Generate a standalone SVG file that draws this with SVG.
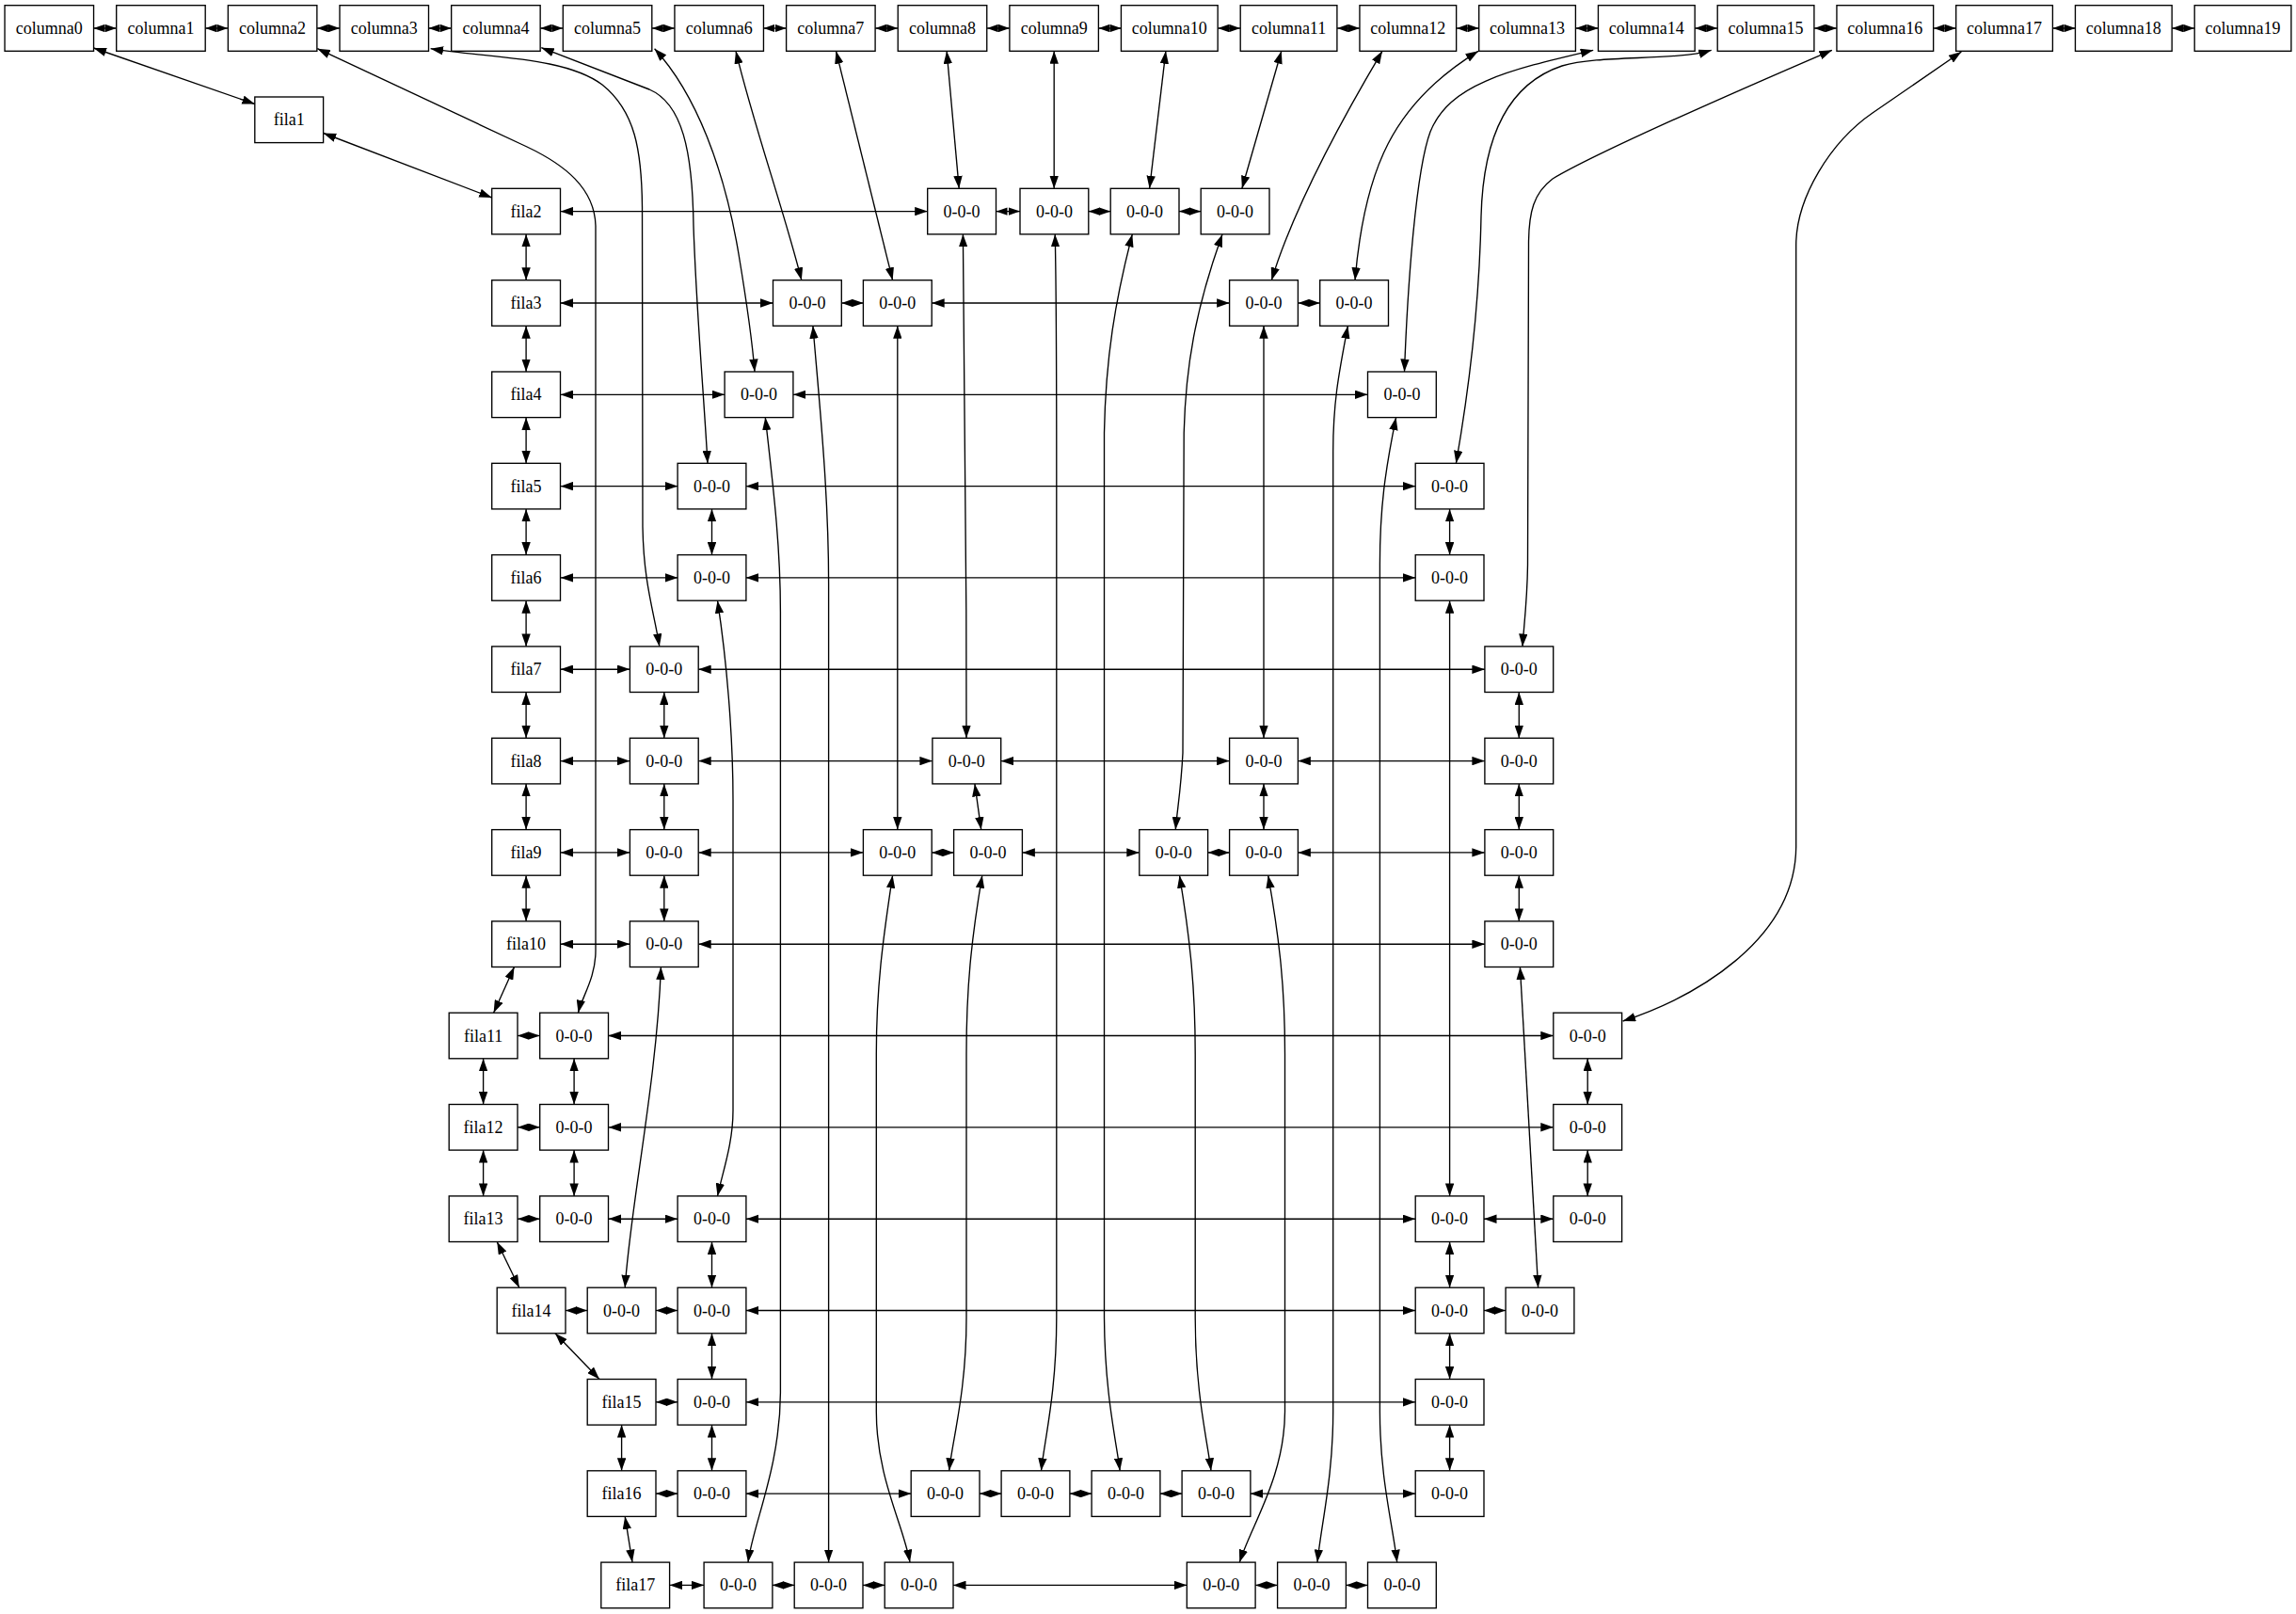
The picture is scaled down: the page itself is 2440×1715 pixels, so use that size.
<svg xmlns="http://www.w3.org/2000/svg" width="2440" height="1715" viewBox="0 0 2440 1715">
<style>
.n rect{fill:#fff;stroke:#000;stroke-width:1.35}
.n text{font-family:"Liberation Serif","Times New Roman",serif;font-size:18px;text-anchor:middle;fill:#000}
.e path{fill:none;stroke:#000;stroke-width:1.35;marker-start:url(#a);marker-end:url(#a)}
.e path.s{marker-start:url(#s);marker-end:url(#s)}
</style>
<defs>
<marker id="a" markerUnits="userSpaceOnUse" viewBox="0 0 13.5 9.4" markerWidth="13.5" markerHeight="9.4" refX="13.5" refY="4.7" orient="auto-start-reverse"><path d="M0,0L13.5,4.7L0,9.4z" fill="#000"/></marker>
<marker id="s" markerUnits="userSpaceOnUse" viewBox="0 0 12 8.4" markerWidth="12" markerHeight="8.4" refX="12" refY="4.2" orient="auto-start-reverse"><path d="M0,0L12,4.2L0,8.4z" fill="#000"/></marker>
</defs>
<rect width="2440" height="1715" fill="#fff"/>
<g id="edges" class="e">
<path class="s" d="M99.55,30H123.7"/>
<path class="s" d="M218.2,30H242.35"/>
<path class="s" d="M336.85,30H361"/>
<path class="s" d="M455.5,30H479.65"/>
<path class="s" d="M574.15,30H598.3"/>
<path class="s" d="M692.8,30H716.95"/>
<path class="s" d="M811.45,30H835.6"/>
<path class="s" d="M930.1,30H954.25"/>
<path class="s" d="M1048.75,30H1072.9"/>
<path class="s" d="M1167.4,30H1191.45"/>
<path class="s" d="M1294.15,30H1318.2"/>
<path class="s" d="M1420.9,30H1444.95"/>
<path class="s" d="M1547.65,30H1571.7"/>
<path class="s" d="M1674.4,30H1698.45"/>
<path class="s" d="M1801.15,30H1825.2"/>
<path class="s" d="M1927.9,30H1951.95"/>
<path class="s" d="M2054.65,30H2078.7"/>
<path class="s" d="M2181.4,30H2205.45"/>
<path class="s" d="M2308.15,30H2332.2"/>
<path d="M99.5,51L270.8,110.5"/>
<path d="M343.7,141.5L522.7,210"/>
<path d="M559.1,248.9V297.7"/>
<path d="M559.1,346.3V395"/>
<path d="M559.1,443.6V492.3"/>
<path d="M559.1,540.9V589.6"/>
<path d="M559.1,638.2V686.9"/>
<path d="M559.1,735.5V784.3"/>
<path d="M559.1,832.9V881.6"/>
<path d="M559.1,930.2V978.9"/>
<path d="M546.5,1027.5L524.6,1076.2"/>
<path d="M513.6,1124.8V1173.5"/>
<path d="M513.6,1222.1V1270.9"/>
<path d="M528.2,1319.5L551.8,1368.2"/>
<path d="M590,1416.8L637,1465.5"/>
<path d="M660.6,1514.1V1562.8"/>
<path d="M664.2,1611.4L672,1660.1"/>
<path d="M595.5,224.6H985.7"/>
<path class="s" d="M1058.5,224.6H1084"/>
<path class="s" d="M1156.8,224.6H1180.2"/>
<path class="s" d="M1253,224.6H1276.2"/>
<path d="M595.5,322H821.5"/>
<path class="s" d="M894.3,322H917.4"/>
<path d="M990.2,322H1306.6"/>
<path class="s" d="M1379.4,322H1402.7"/>
<path d="M595.5,419.3H770.1"/>
<path d="M842.9,419.3H1453.5"/>
<path d="M595.5,516.6H720.1"/>
<path d="M792.9,516.6H1504.2"/>
<path d="M595.5,613.9H720.1"/>
<path d="M792.9,613.9H1504.2"/>
<path d="M595.5,711.2H669.4"/>
<path d="M742.2,711.2H1577.9"/>
<path d="M595.5,808.6H669.4"/>
<path d="M742.2,808.6H990.9"/>
<path d="M1063.7,808.6H1306.6"/>
<path d="M1379.4,808.6H1577.9"/>
<path d="M595.5,905.9H669.4"/>
<path d="M742.2,905.9H917.4"/>
<path class="s" d="M990.2,905.9H1013.6"/>
<path d="M1086.4,905.9H1210.8"/>
<path class="s" d="M1283.6,905.9H1306.6"/>
<path d="M1379.4,905.9H1577.9"/>
<path d="M595.5,1003.2H669.4"/>
<path d="M742.2,1003.2H1577.9"/>
<path class="s" d="M550,1100.5H573.7"/>
<path d="M646.5,1100.5H1650.8"/>
<path class="s" d="M550,1197.8H573.7"/>
<path d="M646.5,1197.8H1650.8"/>
<path class="s" d="M550,1295.2H573.7"/>
<path d="M646.5,1295.2H720.1"/>
<path d="M792.9,1295.2H1504.2"/>
<path d="M1577,1295.2H1650.8"/>
<path class="s" d="M601,1392.5H624.2"/>
<path class="s" d="M697,1392.5H720.1"/>
<path d="M792.9,1392.5H1504.2"/>
<path class="s" d="M1577,1392.5H1600.1"/>
<path class="s" d="M697,1489.8H720.1"/>
<path d="M792.9,1489.8H1504.2"/>
<path class="s" d="M697,1587.1H720.1"/>
<path d="M792.9,1587.1H968.2"/>
<path class="s" d="M1041,1587.1H1064.1"/>
<path class="s" d="M1136.9,1587.1H1160.1"/>
<path class="s" d="M1232.9,1587.1H1256.1"/>
<path d="M1328.9,1587.1H1504.2"/>
<path d="M711.6,1684.4H748.1"/>
<path class="s" d="M820.9,1684.4H844.2"/>
<path class="s" d="M917,1684.4H940.2"/>
<path d="M1013,1684.4H1261.3"/>
<path class="s" d="M1334.1,1684.4H1357.6"/>
<path class="s" d="M1430.4,1684.4H1453.5"/>
<path d="M337.3,51.7L560,156C600,175 632,200 633,240L633,1010C633,1040 618,1060 614.5,1076.2"/>
<path d="M610.1,1124.8V1173.5"/>
<path d="M610.1,1222.1V1270.9"/>
<path d="M457.6,51.7C520,62 600,60 640,90C675,118 682,160 682.5,220L683,560C684,620 695,650 700.8,686.9"/>
<path d="M705.8,735.5V784.3"/>
<path d="M705.8,832.9V881.6"/>
<path d="M705.8,930.2V978.9"/>
<path d="M702.4,1027.5C698,1150 670,1280 664.2,1368.2"/>
<path d="M575.3,50.7L690,95C725,110 736,160 737,240C740,330 748,420 752,492.3"/>
<path d="M756.5,540.9V589.6"/>
<path d="M762.5,638.2C772,700 779,780 779,850L779,1180C779,1215 768,1245 762.5,1270.9"/>
<path d="M756.5,1319.5V1368.2"/>
<path d="M756.5,1416.8V1465.5"/>
<path d="M756.5,1514.1V1562.8"/>
<path d="M695.6,51.7C740,100 770,180 785,270C795,330 800,370 802,395"/>
<path d="M813.3,443.6C822,520 829.4,580 829.4,650L829.4,1480C829,1560 800,1620 795,1660.1"/>
<path d="M782,54.3C800,130 835,230 851.8,297.7"/>
<path d="M863.9,346.3C870,420 880.6,520 880.6,620L880.6,1660.1"/>
<path d="M888.5,54.3L948.6,297.7"/>
<path d="M953.8,346.3V881.6"/>
<path d="M948.6,930.2C938,1000 931.3,1050 931.3,1120L931.3,1500C931.3,1570 960,1620 967,1660.1"/>
<path d="M1006.1,54.3L1019.2,200.3"/>
<path d="M1023.4,248.9C1026,400 1027,600 1027,784.3"/>
<path d="M1035.9,832.9L1042.7,881.6"/>
<path d="M1043.8,930.2C1032,1000 1027,1050 1027,1120L1027,1400C1027,1480 1012,1530 1008.7,1562.8"/>
<path d="M1120.2,54.3V200.3"/>
<path d="M1121.2,248.9C1122.5,300 1122.8,400 1122.8,500L1122.8,1400C1122.8,1480 1110,1530 1106.5,1562.8"/>
<path d="M1238.9,54.3L1221.6,200.3"/>
<path d="M1203.3,248.9C1185,320 1175,380 1173.5,460L1173.5,1400C1174,1480 1186,1530 1190.2,1562.8"/>
<path d="M1361.8,54.3L1319.9,200.3"/>
<path d="M1299,248.9C1270,330 1260,390 1258.2,460L1257,800C1255,840 1251,860 1249.3,881.6"/>
<path d="M1253.5,930.2C1265,1000 1270.2,1050 1270.2,1120L1270.2,1400C1270.2,1480 1283,1530 1287,1562.8"/>
<path d="M1469,54.3C1430,120 1375,220 1351.3,297.7"/>
<path d="M1343,346.3V784.3"/>
<path d="M1343,832.9V881.6"/>
<path d="M1347.7,930.2C1360,1000 1365.5,1050 1365.5,1120L1365.5,1500C1365,1570 1330,1620 1317.3,1660.1"/>
<path d="M1571,54.3C1480,110 1450,180 1440,297.7"/>
<path d="M1432.4,346.3C1422,400 1416.7,430 1416.7,480L1416.7,1500C1416.7,1570 1404,1620 1400,1660.1"/>
<path d="M1693.2,53.3C1600,75 1540,90 1520,140C1505,180 1496,300 1492.5,395"/>
<path d="M1483.6,443.6C1472,500 1466.4,540 1466.4,600L1466.4,1500C1466.4,1570 1480,1620 1484.7,1660.1"/>
<path d="M1818.7,53.3C1780,65 1700,58 1660,70C1600,90 1576,150 1574,230C1572,330 1560,420 1547.4,492.3"/>
<path d="M1540.6,540.9V589.6"/>
<path d="M1540.6,638.2V1270.9"/>
<path d="M1540.6,1319.5V1368.2"/>
<path d="M1540.6,1416.8V1465.5"/>
<path d="M1540.6,1514.1V1562.8"/>
<path d="M1946.9,53.3C1850,95 1700,160 1650,190C1630,205 1624.5,225 1624.5,260L1623.5,600C1623,640 1619,670 1618,686.9"/>
<path d="M1614.3,735.5V784.3"/>
<path d="M1614.3,832.9V881.6"/>
<path d="M1614.3,930.2V978.9"/>
<path d="M1615.4,1027.5L1634.6,1368.2"/>
<path d="M2084.4,55L1990,120C1945,151 1909,210 1908.7,260L1908.7,900C1908,1000 1800,1060 1724.6,1085"/>
<path d="M1687.2,1124.8V1173.5"/>
<path d="M1687.2,1222.1V1270.9"/>
</g>
<g id="columna0" class="n"><rect x="5.05" y="5.7" width="94.5" height="48.6"/><text x="52.3" y="36">columna0</text></g>
<g id="columna1" class="n"><rect x="123.7" y="5.7" width="94.5" height="48.6"/><text x="170.95" y="36">columna1</text></g>
<g id="columna2" class="n"><rect x="242.35" y="5.7" width="94.5" height="48.6"/><text x="289.6" y="36">columna2</text></g>
<g id="columna3" class="n"><rect x="361" y="5.7" width="94.5" height="48.6"/><text x="408.25" y="36">columna3</text></g>
<g id="columna4" class="n"><rect x="479.65" y="5.7" width="94.5" height="48.6"/><text x="526.9" y="36">columna4</text></g>
<g id="columna5" class="n"><rect x="598.3" y="5.7" width="94.5" height="48.6"/><text x="645.55" y="36">columna5</text></g>
<g id="columna6" class="n"><rect x="716.95" y="5.7" width="94.5" height="48.6"/><text x="764.2" y="36">columna6</text></g>
<g id="columna7" class="n"><rect x="835.6" y="5.7" width="94.5" height="48.6"/><text x="882.85" y="36">columna7</text></g>
<g id="columna8" class="n"><rect x="954.25" y="5.7" width="94.5" height="48.6"/><text x="1001.5" y="36">columna8</text></g>
<g id="columna9" class="n"><rect x="1072.9" y="5.7" width="94.5" height="48.6"/><text x="1120.15" y="36">columna9</text></g>
<g id="columna10" class="n"><rect x="1191.45" y="5.7" width="102.7" height="48.6"/><text x="1242.8" y="36">columna10</text></g>
<g id="columna11" class="n"><rect x="1318.2" y="5.7" width="102.7" height="48.6"/><text x="1369.55" y="36">columna11</text></g>
<g id="columna12" class="n"><rect x="1444.95" y="5.7" width="102.7" height="48.6"/><text x="1496.3" y="36">columna12</text></g>
<g id="columna13" class="n"><rect x="1571.7" y="5.7" width="102.7" height="48.6"/><text x="1623.05" y="36">columna13</text></g>
<g id="columna14" class="n"><rect x="1698.45" y="5.7" width="102.7" height="48.6"/><text x="1749.8" y="36">columna14</text></g>
<g id="columna15" class="n"><rect x="1825.2" y="5.7" width="102.7" height="48.6"/><text x="1876.55" y="36">columna15</text></g>
<g id="columna16" class="n"><rect x="1951.95" y="5.7" width="102.7" height="48.6"/><text x="2003.3" y="36">columna16</text></g>
<g id="columna17" class="n"><rect x="2078.7" y="5.7" width="102.7" height="48.6"/><text x="2130.05" y="36">columna17</text></g>
<g id="columna18" class="n"><rect x="2205.45" y="5.7" width="102.7" height="48.6"/><text x="2256.8" y="36">columna18</text></g>
<g id="columna19" class="n"><rect x="2332.2" y="5.7" width="102.7" height="48.6"/><text x="2383.55" y="36">columna19</text></g>
<g id="fila1" class="n"><rect x="270.8" y="103" width="72.8" height="48.6"/><text x="307.2" y="133.3">fila1</text></g>
<g id="fila2" class="n"><rect x="522.7" y="200.3" width="72.8" height="48.6"/><text x="559.1" y="230.6">fila2</text></g>
<g id="fila3" class="n"><rect x="522.7" y="297.7" width="72.8" height="48.6"/><text x="559.1" y="328">fila3</text></g>
<g id="fila4" class="n"><rect x="522.7" y="395" width="72.8" height="48.6"/><text x="559.1" y="425.3">fila4</text></g>
<g id="fila5" class="n"><rect x="522.7" y="492.3" width="72.8" height="48.6"/><text x="559.1" y="522.6">fila5</text></g>
<g id="fila6" class="n"><rect x="522.7" y="589.6" width="72.8" height="48.6"/><text x="559.1" y="619.9">fila6</text></g>
<g id="fila7" class="n"><rect x="522.7" y="686.9" width="72.8" height="48.6"/><text x="559.1" y="717.2">fila7</text></g>
<g id="fila8" class="n"><rect x="522.7" y="784.3" width="72.8" height="48.6"/><text x="559.1" y="814.6">fila8</text></g>
<g id="fila9" class="n"><rect x="522.7" y="881.6" width="72.8" height="48.6"/><text x="559.1" y="911.9">fila9</text></g>
<g id="fila10" class="n"><rect x="522.7" y="978.9" width="72.8" height="48.6"/><text x="559.1" y="1009.2">fila10</text></g>
<g id="fila11" class="n"><rect x="477.2" y="1076.2" width="72.8" height="48.6"/><text x="513.6" y="1106.5">fila11</text></g>
<g id="fila12" class="n"><rect x="477.2" y="1173.5" width="72.8" height="48.6"/><text x="513.6" y="1203.8">fila12</text></g>
<g id="fila13" class="n"><rect x="477.2" y="1270.9" width="72.8" height="48.6"/><text x="513.6" y="1301.2">fila13</text></g>
<g id="fila14" class="n"><rect x="528.2" y="1368.2" width="72.8" height="48.6"/><text x="564.6" y="1398.5">fila14</text></g>
<g id="fila15" class="n"><rect x="624.2" y="1465.5" width="72.8" height="48.6"/><text x="660.6" y="1495.8">fila15</text></g>
<g id="fila16" class="n"><rect x="624.2" y="1562.8" width="72.8" height="48.6"/><text x="660.6" y="1593.1">fila16</text></g>
<g id="fila17" class="n"><rect x="638.8" y="1660.1" width="72.8" height="48.6"/><text x="675.2" y="1690.4">fila17</text></g>
<g id="n2_8" class="n"><rect x="985.7" y="200.3" width="72.8" height="48.6"/><text x="1022.1" y="230.6">0-0-0</text></g>
<g id="n2_9" class="n"><rect x="1084" y="200.3" width="72.8" height="48.6"/><text x="1120.4" y="230.6">0-0-0</text></g>
<g id="n2_10" class="n"><rect x="1180.2" y="200.3" width="72.8" height="48.6"/><text x="1216.6" y="230.6">0-0-0</text></g>
<g id="n2_11" class="n"><rect x="1276.2" y="200.3" width="72.8" height="48.6"/><text x="1312.6" y="230.6">0-0-0</text></g>
<g id="n3_6" class="n"><rect x="821.5" y="297.7" width="72.8" height="48.6"/><text x="857.9" y="328">0-0-0</text></g>
<g id="n3_7" class="n"><rect x="917.4" y="297.7" width="72.8" height="48.6"/><text x="953.8" y="328">0-0-0</text></g>
<g id="n3_12" class="n"><rect x="1306.6" y="297.7" width="72.8" height="48.6"/><text x="1343" y="328">0-0-0</text></g>
<g id="n3_13" class="n"><rect x="1402.7" y="297.7" width="72.8" height="48.6"/><text x="1439.1" y="328">0-0-0</text></g>
<g id="n4_5" class="n"><rect x="770.1" y="395" width="72.8" height="48.6"/><text x="806.5" y="425.3">0-0-0</text></g>
<g id="n4_14" class="n"><rect x="1453.5" y="395" width="72.8" height="48.6"/><text x="1489.9" y="425.3">0-0-0</text></g>
<g id="n5_4" class="n"><rect x="720.1" y="492.3" width="72.8" height="48.6"/><text x="756.5" y="522.6">0-0-0</text></g>
<g id="n5_15" class="n"><rect x="1504.2" y="492.3" width="72.8" height="48.6"/><text x="1540.6" y="522.6">0-0-0</text></g>
<g id="n6_4" class="n"><rect x="720.1" y="589.6" width="72.8" height="48.6"/><text x="756.5" y="619.9">0-0-0</text></g>
<g id="n6_15" class="n"><rect x="1504.2" y="589.6" width="72.8" height="48.6"/><text x="1540.6" y="619.9">0-0-0</text></g>
<g id="n7_3" class="n"><rect x="669.4" y="686.9" width="72.8" height="48.6"/><text x="705.8" y="717.2">0-0-0</text></g>
<g id="n7_16" class="n"><rect x="1577.9" y="686.9" width="72.8" height="48.6"/><text x="1614.3" y="717.2">0-0-0</text></g>
<g id="n8_3" class="n"><rect x="669.4" y="784.3" width="72.8" height="48.6"/><text x="705.8" y="814.6">0-0-0</text></g>
<g id="n8_8" class="n"><rect x="990.9" y="784.3" width="72.8" height="48.6"/><text x="1027.3" y="814.6">0-0-0</text></g>
<g id="n8_12" class="n"><rect x="1306.6" y="784.3" width="72.8" height="48.6"/><text x="1343" y="814.6">0-0-0</text></g>
<g id="n8_16" class="n"><rect x="1577.9" y="784.3" width="72.8" height="48.6"/><text x="1614.3" y="814.6">0-0-0</text></g>
<g id="n9_3" class="n"><rect x="669.4" y="881.6" width="72.8" height="48.6"/><text x="705.8" y="911.9">0-0-0</text></g>
<g id="n9_7" class="n"><rect x="917.4" y="881.6" width="72.8" height="48.6"/><text x="953.8" y="911.9">0-0-0</text></g>
<g id="n9_8" class="n"><rect x="1013.6" y="881.6" width="72.8" height="48.6"/><text x="1050" y="911.9">0-0-0</text></g>
<g id="n9_11" class="n"><rect x="1210.8" y="881.6" width="72.8" height="48.6"/><text x="1247.2" y="911.9">0-0-0</text></g>
<g id="n9_12" class="n"><rect x="1306.6" y="881.6" width="72.8" height="48.6"/><text x="1343" y="911.9">0-0-0</text></g>
<g id="n9_16" class="n"><rect x="1577.9" y="881.6" width="72.8" height="48.6"/><text x="1614.3" y="911.9">0-0-0</text></g>
<g id="n10_3" class="n"><rect x="669.4" y="978.9" width="72.8" height="48.6"/><text x="705.8" y="1009.2">0-0-0</text></g>
<g id="n10_16" class="n"><rect x="1577.9" y="978.9" width="72.8" height="48.6"/><text x="1614.3" y="1009.2">0-0-0</text></g>
<g id="n11_2" class="n"><rect x="573.7" y="1076.2" width="72.8" height="48.6"/><text x="610.1" y="1106.5">0-0-0</text></g>
<g id="n11_17" class="n"><rect x="1650.8" y="1076.2" width="72.8" height="48.6"/><text x="1687.2" y="1106.5">0-0-0</text></g>
<g id="n12_2" class="n"><rect x="573.7" y="1173.5" width="72.8" height="48.6"/><text x="610.1" y="1203.8">0-0-0</text></g>
<g id="n12_17" class="n"><rect x="1650.8" y="1173.5" width="72.8" height="48.6"/><text x="1687.2" y="1203.8">0-0-0</text></g>
<g id="n13_2" class="n"><rect x="573.7" y="1270.9" width="72.8" height="48.6"/><text x="610.1" y="1301.2">0-0-0</text></g>
<g id="n13_4" class="n"><rect x="720.1" y="1270.9" width="72.8" height="48.6"/><text x="756.5" y="1301.2">0-0-0</text></g>
<g id="n13_15" class="n"><rect x="1504.2" y="1270.9" width="72.8" height="48.6"/><text x="1540.6" y="1301.2">0-0-0</text></g>
<g id="n13_17" class="n"><rect x="1650.8" y="1270.9" width="72.8" height="48.6"/><text x="1687.2" y="1301.2">0-0-0</text></g>
<g id="n14_3" class="n"><rect x="624.2" y="1368.2" width="72.8" height="48.6"/><text x="660.6" y="1398.5">0-0-0</text></g>
<g id="n14_4" class="n"><rect x="720.1" y="1368.2" width="72.8" height="48.6"/><text x="756.5" y="1398.5">0-0-0</text></g>
<g id="n14_15" class="n"><rect x="1504.2" y="1368.2" width="72.8" height="48.6"/><text x="1540.6" y="1398.5">0-0-0</text></g>
<g id="n14_16" class="n"><rect x="1600.1" y="1368.2" width="72.8" height="48.6"/><text x="1636.5" y="1398.5">0-0-0</text></g>
<g id="n15_4" class="n"><rect x="720.1" y="1465.5" width="72.8" height="48.6"/><text x="756.5" y="1495.8">0-0-0</text></g>
<g id="n15_15" class="n"><rect x="1504.2" y="1465.5" width="72.8" height="48.6"/><text x="1540.6" y="1495.8">0-0-0</text></g>
<g id="n16_4" class="n"><rect x="720.1" y="1562.8" width="72.8" height="48.6"/><text x="756.5" y="1593.1">0-0-0</text></g>
<g id="n16_8" class="n"><rect x="968.2" y="1562.8" width="72.8" height="48.6"/><text x="1004.6" y="1593.1">0-0-0</text></g>
<g id="n16_9" class="n"><rect x="1064.1" y="1562.8" width="72.8" height="48.6"/><text x="1100.5" y="1593.1">0-0-0</text></g>
<g id="n16_10" class="n"><rect x="1160.1" y="1562.8" width="72.8" height="48.6"/><text x="1196.5" y="1593.1">0-0-0</text></g>
<g id="n16_11" class="n"><rect x="1256.1" y="1562.8" width="72.8" height="48.6"/><text x="1292.5" y="1593.1">0-0-0</text></g>
<g id="n16_15" class="n"><rect x="1504.2" y="1562.8" width="72.8" height="48.6"/><text x="1540.6" y="1593.1">0-0-0</text></g>
<g id="n17_5" class="n"><rect x="748.1" y="1660.1" width="72.8" height="48.6"/><text x="784.5" y="1690.4">0-0-0</text></g>
<g id="n17_6" class="n"><rect x="844.2" y="1660.1" width="72.8" height="48.6"/><text x="880.6" y="1690.4">0-0-0</text></g>
<g id="n17_7" class="n"><rect x="940.2" y="1660.1" width="72.8" height="48.6"/><text x="976.6" y="1690.4">0-0-0</text></g>
<g id="n17_12" class="n"><rect x="1261.3" y="1660.1" width="72.8" height="48.6"/><text x="1297.7" y="1690.4">0-0-0</text></g>
<g id="n17_13" class="n"><rect x="1357.6" y="1660.1" width="72.8" height="48.6"/><text x="1394" y="1690.4">0-0-0</text></g>
<g id="n17_14" class="n"><rect x="1453.5" y="1660.1" width="72.8" height="48.6"/><text x="1489.9" y="1690.4">0-0-0</text></g>
</svg>
